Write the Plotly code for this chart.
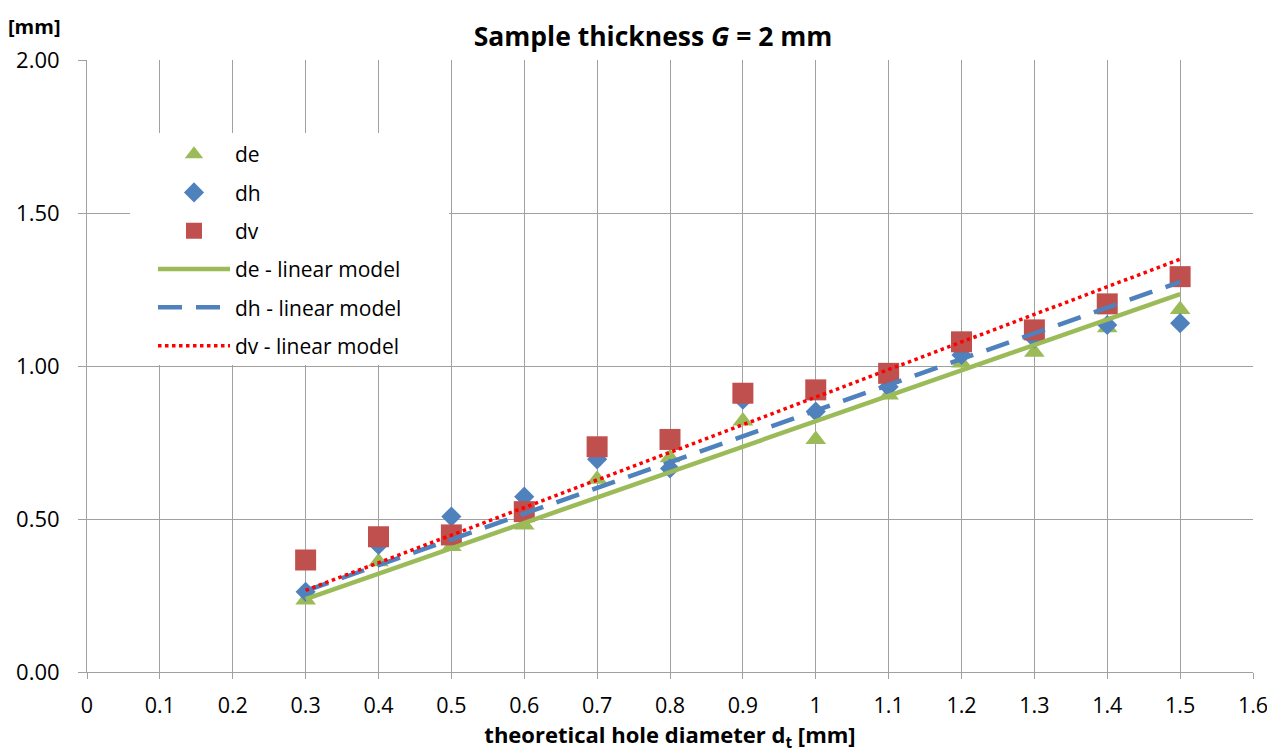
import plotly.graph_objects as go

# ---- data ----
diam = [0.3, 0.4, 0.5, 0.6, 0.7, 0.8, 0.9, 1.0, 1.1, 1.2, 1.3, 1.4, 1.5]
de = [0.235, 0.36, 0.41, 0.48, 0.63, 0.70, 0.82, 0.76, 0.905, 1.01, 1.045, 1.125, 1.185]
dh = [0.262, 0.415, 0.508, 0.573, 0.695, 0.665, 0.89, 0.851, 0.932, 1.036, 1.09, 1.134, 1.14]
dv = [0.366, 0.442, 0.448, 0.524, 0.736, 0.76, 0.911, 0.922, 0.976, 1.079, 1.118, 1.203, 1.292]

model_x = [0.3, 1.5]
de_model = [0.238, 1.235]
dh_model = [0.265, 1.275]
dv_model = [0.267, 1.349]

x_ticks = [0, 0.1, 0.2, 0.3, 0.4, 0.5, 0.6, 0.7, 0.8, 0.9, 1, 1.1, 1.2, 1.3, 1.4, 1.5, 1.6]
x_labels = ["0", "0.1", "0.2", "0.3", "0.4", "0.5", "0.6", "0.7", "0.8", "0.9", "1",
            "1.1", "1.2", "1.3", "1.4", "1.5", "1.6"]
y_ticks = [0.0, 0.5, 1.0, 1.5, 2.0]
y_labels = ["0.00", "0.50", "1.00", "1.50", "2.00"]

GREEN = "#9BBB59"
BLUE = "#4F81BD"
RED = "#C0504D"
BRIGHT_RED = "#FF0000"
GRID = "#A0A0A0"
FONT = "'Open Sans', Lato, sans-serif"

# page body has an 8px margin, so the figure is offset by 8px
W, H = 1267, 745
PL, PR, PT, PB = 79, 22, 52, 81
PW = W - PL - PR
PHt = H - PT - PB


def px_x(page_x):
    return (page_x - 8 - PL) / PW


def px_y(page_y):
    return 1 - (page_y - 8 - PT) / PHt


fig = go.Figure()

fig.add_trace(go.Scatter(x=diam, y=de, mode="markers", name="de", legendgroup="a",
                         marker=dict(symbol="triangle-up", size=18, color=GREEN)))
fig.add_trace(go.Scatter(x=diam, y=dh, mode="markers", name="dh", legendgroup="b",
                         marker=dict(symbol="diamond", size=15.5, color=BLUE)))
fig.add_trace(go.Scatter(x=diam, y=dv, mode="markers", name="dv", legendgroup="c",
                         marker=dict(symbol="square", size=21, color=RED)))
fig.add_trace(go.Scatter(x=model_x, y=de_model, mode="lines", name="de - linear model", legendgroup="d",
                         line=dict(color=GREEN, width=4.5)))
fig.add_trace(go.Scatter(x=model_x, y=dh_model, mode="lines", name="dh - linear model", legendgroup="e",
                         line=dict(color=BLUE, width=4.5, dash="24px,14px")))
fig.add_trace(go.Scatter(x=model_x, y=dv_model, mode="lines", name="dv - linear model", legendgroup="f",
                         line=dict(color=BRIGHT_RED, width=3.5, dash="dot")))

fig.update_layout(
    width=W, height=H,
    margin=dict(l=PL, r=PR, t=PT, b=PB, autoexpand=False),
    paper_bgcolor="white", plot_bgcolor="white",
    font=dict(family=FONT, size=22, color="#000000"),
    title=dict(text="<b>Sample thickness <i>G</i> = 2 mm</b>", x=(653 - 8) / W, xanchor="center",
               y=1 - (37 - 8) / H, yanchor="middle", font=dict(size=26.5, family=FONT)),
    showlegend=True,
    legend=dict(x=px_x(153), y=px_y(134), xanchor="left", yanchor="top", bgcolor="rgba(0,0,0,0)",
                borderwidth=0, font=dict(size=21, family=FONT), tracegroupgap=8,
                itemwidth=72),
    shapes=[dict(type="rect", xref="paper", yref="paper", x0=px_x(130), x1=px_x(449),
                 y0=px_y(365), y1=px_y(133), fillcolor="white", line=dict(width=0),
                 layer="above")],
    xaxis=dict(range=[0, 1.6], tickvals=x_ticks, ticktext=x_labels,
               showgrid=True, gridcolor=GRID, gridwidth=1, zeroline=False,
               showline=True, linecolor=GRID, linewidth=1, mirror=False,
               ticks="outside", ticklen=6, tickcolor=GRID, ticklabelstandoff=8,
               tickfont=dict(size=21.5, family=FONT),
               title=dict(text="<b>theoretical hole diameter d<sub>t</sub> [mm]</b>", standoff=20,
                          font=dict(size=22, family=FONT))),
    yaxis=dict(range=[0, 2.0], tickvals=y_ticks, ticktext=y_labels,
               showgrid=True, gridcolor=GRID, gridwidth=1, zeroline=False,
               showline=True, linecolor=GRID, linewidth=1,
               ticks="outside", ticklen=8, tickcolor=GRID, ticklabelstandoff=14,
               tickfont=dict(size=22, family=FONT)),
    annotations=[dict(text="<b>[mm]</b>", xref="paper", yref="paper", x=px_x(6),
                      y=px_y(27), xanchor="left", yanchor="middle", showarrow=False,
                      font=dict(size=20, family=FONT))],
)

fig.write_html("out.html")
